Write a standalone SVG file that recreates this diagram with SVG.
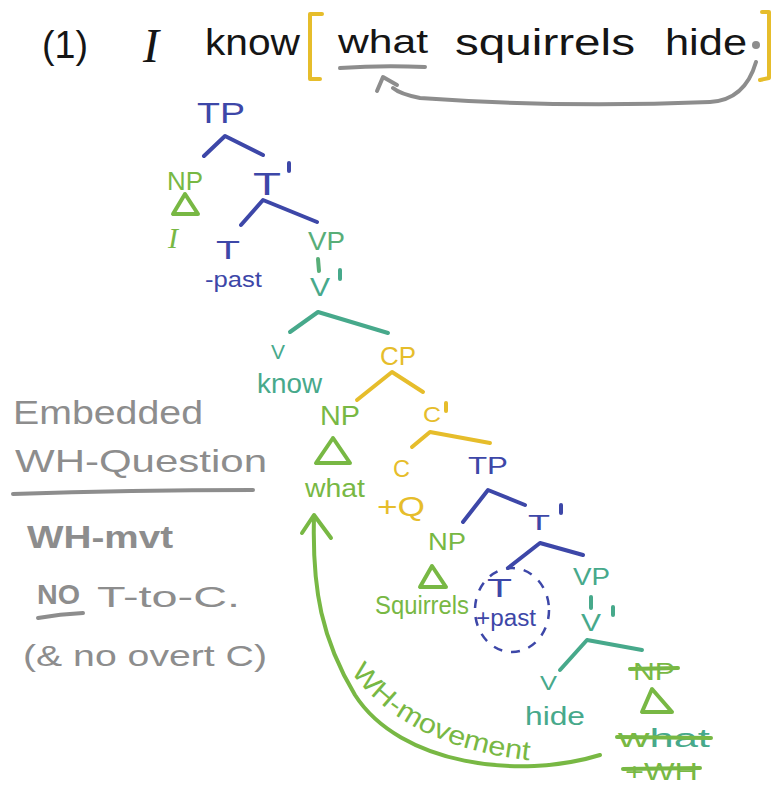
<svg xmlns="http://www.w3.org/2000/svg" width="775" height="785" viewBox="0 0 775 785">
<style>
  text { font-family: "Liberation Sans", "DejaVu Sans", sans-serif; }
  .blk { fill: #151515; }
  .blue { fill: #3d47a8; }
  .green { fill: #78b844; }
  .teal { fill: #47a98b; }
  .yel { fill: #e6bd2b; }
  .gray { fill: #8d8d8d; }
  .ln { fill: none; stroke-width: 4; stroke-linecap: round; stroke-linejoin: round; }
  .lb { stroke: #3d47a8; }
  .lg { stroke: #78b844; }
  .lt { stroke: #47a98b; }
  .ly { stroke: #e6bd2b; }
  .lgr { stroke: #8d8d8d; }
</style>
<rect width="775" height="785" fill="#ffffff"/>

<g id="header">
  <text class="blk" x="42" y="58" font-size="38" textLength="46" lengthAdjust="spacingAndGlyphs">(1)</text>
  <text class="blk" x="143" y="62" font-size="48" font-style="italic" style="font-family:'Liberation Serif',serif">I</text>
  <text class="blk" x="205" y="55" font-size="36" textLength="95" lengthAdjust="spacingAndGlyphs">know</text>
  <text class="blk" x="338" y="53" font-size="34" textLength="90" lengthAdjust="spacingAndGlyphs">what</text>
  <text class="blk" x="455" y="55" font-size="36" textLength="180" lengthAdjust="spacingAndGlyphs">squirrels</text>
  <text class="blk" x="665" y="55" font-size="36" textLength="82" lengthAdjust="spacingAndGlyphs">hide</text>
  <circle cx="756" cy="45" r="4" fill="#8d8d8d"/>
  <path class="ln ly" d="M322,14 L310,14 L310,79 L320,79"/>
  <path class="ln ly" d="M762,12 L769,12 L769,78 L760,80"/>
  <path class="ln lgr" stroke-width="5" d="M340,68 Q382,65 425,67"/>
</g>

<g id="tp-top">
  <text class="blue" x="197" y="123" font-size="30" textLength="48" lengthAdjust="spacingAndGlyphs">TP</text>
</g>
<g id="np-i">
  <text class="green" x="167" y="190" font-size="26" textLength="36" lengthAdjust="spacingAndGlyphs">NP</text>
  <path class="ln lg" d="M185,194 L173,214 L198,214 Z"/>
  <text class="green" x="168" y="248" font-size="30" font-style="italic" style="font-family:'Liberation Serif',serif">I</text>
</g>
<g id="tbar-top">
  <text class="blue" x="253" y="195" font-size="32" textLength="28" lengthAdjust="spacingAndGlyphs">T</text>
  <path class="ln lb" stroke-width="3" d="M289,163 L289,171"/>
</g>
<g id="t-past">
  <text class="blue" x="216" y="259" font-size="26" textLength="24" lengthAdjust="spacingAndGlyphs">T</text>
  <text class="blue" x="205" y="287" font-size="22" textLength="57" lengthAdjust="spacingAndGlyphs">-past</text>
</g>
<g id="vp-top">
  <text style="fill:#58ae78" x="308" y="250" font-size="26" textLength="37" lengthAdjust="spacingAndGlyphs">VP</text>
  <path class="ln" stroke="#58ae78" stroke-width="3" d="M318,259 L319,271"/>
  <text class="teal" x="310" y="296" font-size="26" textLength="20" lengthAdjust="spacingAndGlyphs">V</text>
  <path class="ln lt" stroke-width="3" d="M340,270 L340,279"/>
</g>
<g id="v-know">
  <text class="teal" x="271" y="359" font-size="20" textLength="14" lengthAdjust="spacingAndGlyphs">V</text>
  <text class="teal" x="257" y="393" font-size="28" textLength="65" lengthAdjust="spacingAndGlyphs">know</text>
</g>
<g id="cp">
  <text class="yel" x="380" y="365" font-size="26" textLength="36" lengthAdjust="spacingAndGlyphs">CP</text>
</g>
<g id="np-what">
  <text class="green" x="320" y="425" font-size="28" textLength="40" lengthAdjust="spacingAndGlyphs">NP</text>
  <path class="ln lg" stroke-width="5" d="M333,438 L316,463 L350,463 Z"/>
  <text class="green" x="305" y="497" font-size="26" textLength="60" lengthAdjust="spacingAndGlyphs">what</text>
</g>
<g id="cbar">
  <text class="yel" x="423" y="422" font-size="22" textLength="18" lengthAdjust="spacingAndGlyphs">C</text>
  <path class="ln ly" stroke-width="3" d="M446,403 L446,411"/>
</g>
<g id="c-q">
  <text class="yel" x="393" y="477" font-size="24" textLength="17" lengthAdjust="spacingAndGlyphs">C</text>
  <text class="yel" x="377" y="516" font-size="28" textLength="48" lengthAdjust="spacingAndGlyphs">+Q</text>
</g>
<g id="tp-low">
  <text class="blue" x="468" y="474" font-size="24" textLength="40" lengthAdjust="spacingAndGlyphs">TP</text>
</g>
<g id="tbar-low">
  <text class="blue" x="528" y="530" font-size="22" textLength="22" lengthAdjust="spacingAndGlyphs">T</text>
  <path class="ln lb" stroke-width="3" d="M561,505 L561,513"/>
</g>
<g id="np-squirrels">
  <text class="green" x="428" y="550" font-size="24" textLength="38" lengthAdjust="spacingAndGlyphs">NP</text>
  <path class="ln lg" d="M432,566 L420,587 L446,587 Z"/>
  <text class="green" x="375" y="614" font-size="26" textLength="94" lengthAdjust="spacingAndGlyphs">Squirrels</text>
</g>
<g id="t-pluspast">
  <text class="blue" x="487" y="597" font-size="25" textLength="25" lengthAdjust="spacingAndGlyphs">T</text>
  <text class="blue" x="476" y="626" font-size="23" textLength="60" lengthAdjust="spacingAndGlyphs">+past</text>
  <ellipse cx="512" cy="610" rx="37" ry="42" fill="none" stroke="#3d47a8" stroke-width="2.5" stroke-dasharray="9 9"/>
</g>
<g id="vp-low">
  <text class="teal" x="573" y="585" font-size="24" textLength="37" lengthAdjust="spacingAndGlyphs">VP</text>
  <path class="ln lt" stroke-width="3" d="M591,597 L591,608"/>
  <text class="teal" x="581" y="631" font-size="24" textLength="20" lengthAdjust="spacingAndGlyphs">V</text>
  <path class="ln lt" stroke-width="3" d="M613,607 L613,615"/>
</g>
<g id="v-hide">
  <text class="teal" x="540" y="690" font-size="20" textLength="17" lengthAdjust="spacingAndGlyphs">V</text>
  <text class="teal" x="525" y="725" font-size="25" textLength="60" lengthAdjust="spacingAndGlyphs">hide</text>
</g>
<g id="np-trace">
  <text class="green" x="633" y="680" font-size="24" textLength="42" lengthAdjust="spacingAndGlyphs">NP</text>
  <path class="ln lg" d="M630,669 L678,668"/>
  <path class="ln lg" d="M652,689 L642,712 L672,712 Z"/>
  <text x="618" y="747" font-size="26" textLength="92" lengthAdjust="spacingAndGlyphs"><tspan class="green">w</tspan><tspan class="teal">hat</tspan></text>
  <path class="ln lg" d="M617,737 L711,738"/>
  <text class="green" x="625" y="780" font-size="24" textLength="73" lengthAdjust="spacingAndGlyphs">+WH</text>
  <path class="ln lg" d="M623,769 L700,768"/>
</g>

<g id="notes">
  <text class="gray" x="13" y="424" font-size="34" textLength="190" lengthAdjust="spacingAndGlyphs">Embedded</text>
  <text class="gray" x="15" y="472" font-size="32" textLength="252" lengthAdjust="spacingAndGlyphs">WH-Question</text>
  <path class="ln lgr" stroke-width="5" d="M13,494 Q130,490 253,490"/>
  <text class="gray" x="27" y="548" font-size="32" font-weight="bold" textLength="146" lengthAdjust="spacingAndGlyphs">WH-mvt</text>
  <text class="gray" x="37" y="604" font-size="28" font-weight="bold" textLength="43" lengthAdjust="spacingAndGlyphs">NO</text>
  <path class="ln lgr" d="M38,618 Q60,614 83,613"/>
  <text class="gray" x="97" y="607" font-size="30" textLength="143" lengthAdjust="spacingAndGlyphs">T-to-C.</text>
  <text class="gray" x="23" y="666" font-size="30" textLength="244" lengthAdjust="spacingAndGlyphs">(&amp; no overt C)</text>
</g>

<g id="connectors">
  <path class="ln lgr" d="M756,62 Q745,100 710,102 Q560,108 420,98 Q400,94 393,88"/>
  <path class="ln lgr" d="M377,91 L383,77 L397,85"/>
  <path class="ln lb" d="M204,156 L225,136 L263,155"/>
  <path class="ln lb" d="M241,225 L263,200 L317,222"/>
  <path class="ln lt" d="M290,332 L318,312 L388,333"/>
  <path class="ln ly" d="M357,400 L392,372 L423,392"/>
  <path class="ln ly" d="M412,447 L430,432 L490,443"/>
  <path class="ln lb" d="M463,522 L488,490 L525,505"/>
  <path class="ln lb" d="M508,568 L540,543 L583,555"/>
  <path class="ln lt" d="M560,670 L587,640 L642,650"/>
  <path class="ln lg" d="M600,755 C520,780 400,765 355,695 C322,640 312,590 314,517"/>
  <path class="ln lg" d="M302,533 L314,515 L331,538"/>
  <path id="wharc" fill="none" d="M351,672 Q410,752 548,762"/>
  <text class="green" font-size="27"><textPath href="#wharc" textLength="205" lengthAdjust="spacingAndGlyphs">WH-movement</textPath></text>
</g>
</svg>
